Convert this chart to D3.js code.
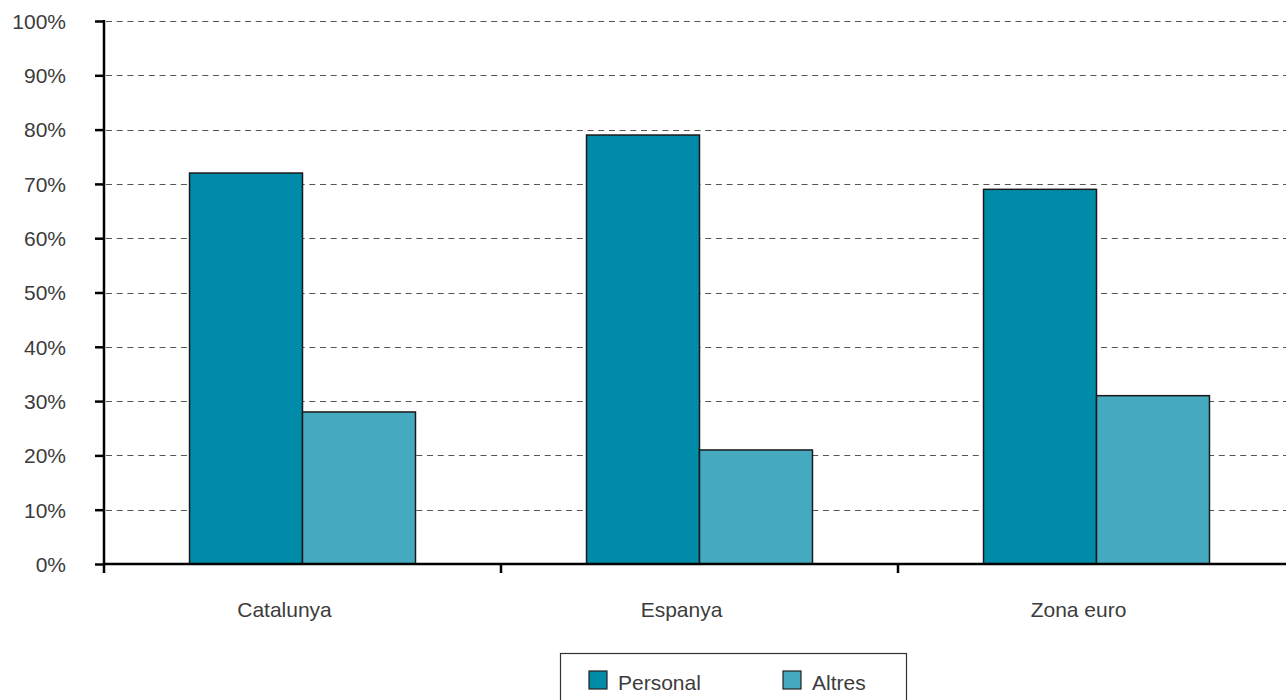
<!DOCTYPE html>
<html>
<head>
<meta charset="utf-8">
<script src="https://cdn.jsdelivr.net/npm/d3@7"></script>
<style>
  html, body { margin: 0; padding: 0; background: #fff; }
  svg { display: block; font-family: "Liberation Sans", Arial, sans-serif; }
</style>
</head>
<body>
<svg id="chart" width="1286" height="700"></svg>
<script>
const categories = ["Catalunya", "Espanya", "Zona euro"];
const seriesNames = ["Personal", "Altres"];
const personal = [72, 79, 69];
const altres = [28, 21, 31];
const yTicks = [0, 10, 20, 30, 40, 50, 60, 70, 80, 90, 100];
const colors = ["#008ba8", "#45aac0"];

const values = [personal, altres];
const data = categories.map((c, i) => ({
  cat: c,
  vals: seriesNames.map((s, j) => ({ series: s, value: values[j][i], idx: j }))
}));

const svg = d3.select("#chart");
const plotLeft = 104, plotRight = 1295, plotTop = 21, plotBottom = 564;
const textColor = "#3c3c3c";

const x0 = d3.scaleBand().domain(categories).range([plotLeft, plotRight]).paddingInner(0).paddingOuter(0);
const x1 = d3.scaleBand().domain(seriesNames).range([0, x0.bandwidth()]).paddingInner(0).paddingOuter(0.757);
const y = d3.scaleLinear().domain([0, 100]).range([plotBottom, plotTop]);

// gridlines
svg.append("g").selectAll("line").data(yTicks.filter(d => d > 0)).join("line")
  .attr("x1", plotLeft + 2).attr("x2", plotRight)
  .attr("y1", d => Math.round(y(d)) + 0.5).attr("y2", d => Math.round(y(d)) + 0.5)
  .attr("stroke", "#555").attr("stroke-width", 1.2)
  .attr("stroke-dasharray", "6,4.7");

// bars
const groups = svg.append("g").selectAll("g").data(data).join("g")
  .attr("transform", d => `translate(${x0(d.cat)},0)`);
groups.selectAll("rect").data(d => d.vals).join("rect")
  .attr("x", d => x1(d.series))
  .attr("width", x1.bandwidth())
  .attr("y", d => y(d.value))
  .attr("height", d => y(0) - y(d.value))
  .attr("fill", d => colors[d.idx])
  .attr("stroke", "#1a1a1a").attr("stroke-width", 1.5);

// y axis
const yAxis = d3.axisLeft(y).tickValues(yTicks).tickSize(9).tickPadding(0).tickFormat(d => d + "%");
const gy = svg.append("g").attr("transform", `translate(${plotLeft},0)`).call(yAxis);
gy.select(".domain").remove();
gy.selectAll(".tick line").attr("stroke", "#000").attr("stroke-width", 2.5);
gy.selectAll(".tick text").attr("x", -38).attr("fill", textColor)
  .style("font-size", "21px").attr("dy", "0.35em");
svg.append("line").attr("x1", plotLeft).attr("x2", plotLeft).attr("y1", plotTop - 1).attr("y2", plotBottom + 9)
  .attr("stroke", "#000").attr("stroke-width", 2.5);

// x axis
const gx = svg.append("g").attr("transform", `translate(0,${plotBottom})`);
gx.append("line").attr("x1", plotLeft).attr("x2", plotRight).attr("y1", 0).attr("y2", 0)
  .attr("stroke", "#000").attr("stroke-width", 2.5);
gx.selectAll("line.tk").data(categories.slice(1)).join("line").attr("class", "tk")
  .attr("x1", d => x0(d)).attr("x2", d => x0(d)).attr("y1", 0).attr("y2", 9)
  .attr("stroke", "#000").attr("stroke-width", 2.5);
gx.selectAll("text").data(categories).join("text")
  .attr("x", d => x0(d) + x0.bandwidth() / 2 - 18)
  .attr("y", 53)
  .attr("text-anchor", "middle").attr("fill", textColor)
  .style("font-size", "21px")
  .text(d => d);

// legend
const lg = svg.append("g");
lg.append("rect").attr("x", 560.5).attr("y", 653.5).attr("width", 346).attr("height", 80)
  .attr("fill", "#fff").attr("stroke", "#333").attr("stroke-width", 1.2);
const legX = [589, 783];
seriesNames.forEach((s, i) => {
  lg.append("rect").attr("x", legX[i]).attr("y", 671).attr("width", 18).attr("height", 18)
    .attr("fill", colors[i]).attr("stroke", "#222").attr("stroke-width", 1.2);
  lg.append("text").attr("x", legX[i] + 29).attr("y", 690).attr("fill", textColor)
    .style("font-size", "21px").text(s);
});
</script>
</body>
</html>
